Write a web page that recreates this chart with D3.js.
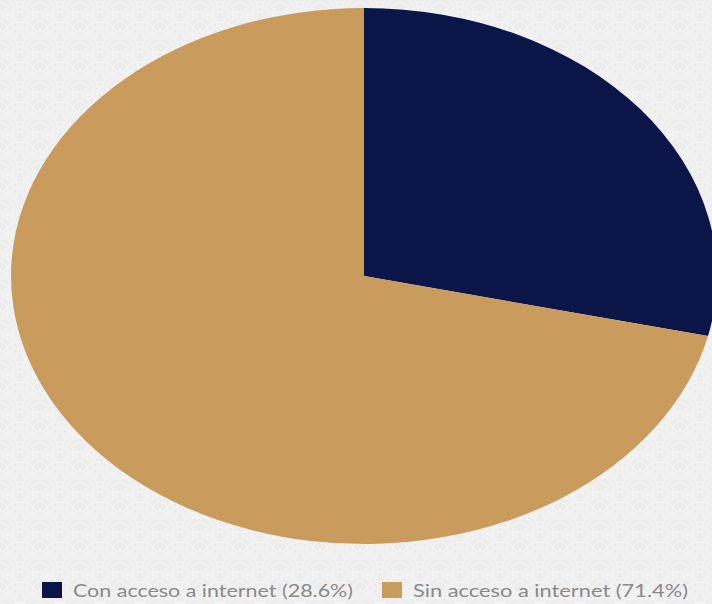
<!DOCTYPE html>
<html><head><meta charset="utf-8">
<script src="https://cdn.jsdelivr.net/npm/d3@7"></script>
<style>html,body{margin:0;padding:0;background:#ececec;}svg{display:block;}</style>
</head><body>
<script>
const categories = ["Con acceso a internet", "Sin acceso a internet"];
const values = [28.6, 71.4];
const labels = ["Con acceso a internet (28.6%)", "Sin acceso a internet (71.4%)"];
const colors = ["#0b1548", "#c99c5e"];

const W = 712, H = 604;
const svg = d3.select("body").append("svg").attr("width", W).attr("height", H);

// textured background
const defs = svg.append("defs");
const pat = defs.append("pattern").attr("id","waves").attr("patternUnits","userSpaceOnUse")
  .attr("width",40).attr("height",20);
pat.append("rect").attr("width",40).attr("height",20).attr("fill","#ededed");
[[20,20],[0,10],[40,10],[0,30],[40,30]].forEach(([x,y])=>{
  [18,13,8].forEach(r=>{
    pat.append("circle").attr("cx",x).attr("cy",y).attr("r",r)
      .attr("fill","none").attr("stroke","#f4f4f4").attr("stroke-width",1.4);
  });
});
svg.append("rect").attr("width",W).attr("height",H).attr("fill","url(#waves)");

const cx = 364, cy = 276, rx = 353, ry = 268;
const pie = d3.pie().sort(null).value(d => d)(values);
const arc = d3.arc().innerRadius(0).outerRadius(ry);
const g = svg.append("g").attr("transform", `translate(${cx},${cy}) scale(${rx/ry},1)`);
g.selectAll("path").data(pie).join("path")
  .attr("d", arc)
  .attr("fill", (d,i) => colors[i]);

// legend
const legendX = [42, 382];
const textW = [280, 275];
const lg = svg.append("g");
labels.forEach((t,i)=>{
  lg.append("rect").attr("x",legendX[i]).attr("y",582).attr("width",20).attr("height",16).attr("fill",colors[i]);
  lg.append("text").attr("x",legendX[i]+31).attr("y",597)
    .attr("font-family","Lato, sans-serif").attr("font-size",17)
    .attr("textLength", textW[i]).attr("lengthAdjust","spacingAndGlyphs")
    .attr("fill","#8a8a8a").text(t);
});
</script>
</body></html>
